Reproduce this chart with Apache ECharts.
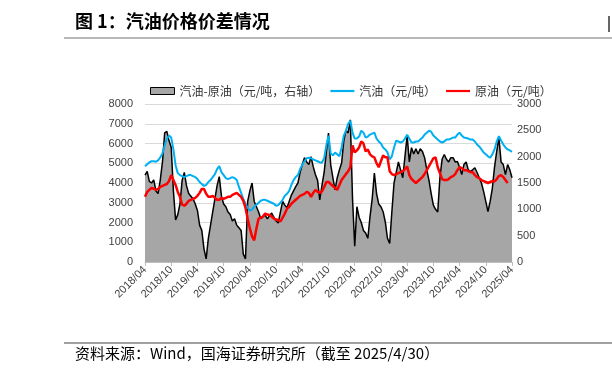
<!DOCTYPE html>
<html><head><meta charset="utf-8">
<script src="https://cdn.jsdelivr.net/npm/echarts@6/dist/echarts.min.js"></script>
<style>html,body{margin:0;padding:0;background:#fff}#c{width:612px;height:379px}</style>
</head><body><div id="c"></div>
<script>
// half-monthly categories from 2018/04 to 2025/04
const categories = [];
for (let i = 0; i < 169; i++) {
  const m = 3 + Math.floor(i / 2);
  const y = 2018 + Math.floor(m / 12);
  const mm = (m % 12) + 1;
  categories.push(y + '/' + String(mm).padStart(2, '0') + (i % 2 ? '/16' : '/01'));
}
const tickLabels = ['2018/04','2018/10','2019/04','2019/10','2020/04','2020/10','2021/04','2021/10','2022/04','2022/10','2023/04','2023/10','2024/04','2024/10','2025/04'];
const leftTicks = [0,1000,2000,3000,4000,5000,6000,7000,8000];
const rightTicks = [0,500,1000,1500,2000,2500,3000];

const gasoline = [4850,4950,5050,5100,5100,5080,5150,5300,5500,5900,6250,6400,6300,5700,4900,4500,4400,4350,4300,4350,4400,4400,4350,4300,4200,4050,3950,3850,3900,4050,4150,4300,4450,4700,4850,4550,4400,4250,4200,4250,4300,4250,4150,3800,3500,3200,2950,2750,2600,2650,2800,2900,3000,3100,3150,3150,3100,3050,3000,2950,2850,2880,3000,3150,3350,3450,3600,3900,4150,4300,4400,4700,4930,5100,5250,5280,5250,5200,5150,5100,5050,5030,5250,5900,6400,5500,5400,5540,5450,5350,5800,6400,6650,7000,7150,6550,6250,6250,6350,6650,6550,6300,6350,6450,6500,6550,6250,6100,6000,5800,5700,5550,5200,5350,5800,6150,6100,6050,6100,6250,6450,6250,6050,6050,6100,6100,6200,6300,6450,6550,6650,6600,6400,6300,6200,6100,6050,6100,6200,6200,6250,6300,6300,6450,6550,6400,6300,6280,6250,6200,6200,6100,5950,5850,5700,5550,5450,5350,5280,5450,5700,6100,6370,6150,5950,5800,5700,5650,5580];

const crude = [3300,3550,3650,3750,3700,3650,3700,3800,3850,3900,3950,4100,4400,4150,3900,3550,3300,2900,2850,2950,3100,3150,3200,3250,3350,3500,3700,3700,3450,3300,3300,3350,3250,3150,3150,3250,3200,3250,3300,3300,3400,3450,3500,3400,3300,3100,2750,2200,1700,1300,1100,1700,2200,2250,2300,2450,2400,2380,2300,2200,2150,2130,2050,2250,2450,2700,2800,2950,3050,3150,3250,3350,3400,3450,3550,3500,3300,3500,3650,3550,3500,3570,3800,4050,4050,3950,3850,3750,3650,3900,4150,4300,4450,4600,4800,5900,5550,5650,5800,6100,6000,5600,5700,5450,5350,5300,5000,4800,5100,5400,5300,5300,4600,4450,4400,4450,4500,4550,4600,4700,4840,4400,4200,4100,4000,4100,4200,4300,4450,4650,4850,5050,5250,5300,4800,4500,4200,4150,4150,4200,4300,4350,4450,4650,4800,4750,4650,4650,4600,4550,4550,4400,4300,4250,4150,4100,4050,4000,4050,4100,4080,4200,4350,4400,4300,4150,4000,null,null];

const spread = [1650,1720,1530,1500,1560,1350,1300,1560,1900,2450,2480,2300,2180,1350,800,900,1100,1550,1700,1450,1300,1250,1200,1100,980,700,600,250,60,450,700,950,1200,1450,1620,1250,1100,1050,950,900,780,820,700,650,600,150,60,1150,1350,1500,1150,1050,950,820,860,890,820,880,930,850,780,740,950,1150,1080,1030,1150,1270,1350,1430,1500,1700,1850,1980,1900,1850,2000,1810,1660,1550,1180,1450,1700,2080,2450,1850,1600,1370,1600,1750,1880,2300,2500,2450,2700,1200,300,1050,850,750,600,550,450,860,1200,1690,1300,1100,1050,955,760,450,350,950,1500,1700,1900,1750,1600,2000,2400,1900,2170,2050,2150,2050,2150,2100,1980,1750,1550,1300,1080,1000,950,1600,1950,2040,1950,1900,1980,1980,1900,1910,1800,1660,1850,1900,1750,1720,1750,1790,1700,1600,1500,1340,1150,955,1150,1400,1800,2100,2360,1900,1850,1660,1850,1750,1600];

const numFont = '"Liberation Sans", Arial, sans-serif';
const cjkFont = '"Noto Sans CJK SC", sans-serif';
const lineIcon = 'path://M0,0 L24,0 L24,2.2 L0,2.2 Z';

const chart = echarts.init(document.getElementById('c'), null, {renderer: 'canvas'});
chart.setOption({
  animation: false,
  backgroundColor: '#fff',
  grid: {left: 145, right: 100, top: 104, bottom: 117},
  legend: {
    left: 145, top: 80, itemWidth: 24, itemHeight: 7, itemGap: 10,
    textStyle: {fontFamily: cjkFont, fontSize: 12, color: '#333'},
    data: [
      {name: '汽油-原油（元/吨，右轴）', icon: 'rect', itemStyle: {color: '#a6a6a6', borderColor: '#000', borderWidth: 1}},
      {name: '汽油（元/吨）', icon: lineIcon, itemStyle: {color: '#00b0f0'}},
      {name: '原油（元/吨）', icon: lineIcon, itemStyle: {color: '#ff0000'}}
    ]
  },
  xAxis: {
    type: 'category', data: categories, boundaryGap: false,
    axisLine: {lineStyle: {color: '#bfbfbf', width: 1}},
    axisTick: {interval: (i) => i % 12 === 0, lineStyle: {color: '#bfbfbf'}, length: 4},
    axisLabel: {
      interval: (i) => i % 12 === 0, rotate: 45, margin: 6,
      fontFamily: numFont, fontSize: 11, color: '#404040',
      formatter: (v, i) => tickLabels[Math.round(i / 12)]
    },
    splitLine: {show: false}
  },
  yAxis: [
    {type: 'value', min: leftTicks[0], max: leftTicks[leftTicks.length - 1], interval: 1000,
     axisLine: {show: false}, axisTick: {show: false},
     axisLabel: {fontFamily: numFont, fontSize: 11, color: '#404040', margin: 12, formatter: (v) => String(v)},
     splitLine: {lineStyle: {color: '#d9d9d9', width: 1}}},
    {type: 'value', min: rightTicks[0], max: rightTicks[rightTicks.length - 1], interval: 500,
     axisLine: {show: false}, axisTick: {show: false},
     axisLabel: {fontFamily: numFont, fontSize: 11, color: '#404040', margin: 5, formatter: (v) => String(v)},
     splitLine: {show: false}}
  ],
  series: [
    {name: '汽油-原油（元/吨，右轴）', type: 'line', yAxisIndex: 1, data: spread, symbol: 'none',
     lineStyle: {color: '#000', width: 1.5}, itemStyle: {color: '#a6a6a6'},
     areaStyle: {color: '#a6a6a6', opacity: 1}, z: 1},
    {name: '汽油（元/吨）', type: 'line', yAxisIndex: 0, data: gasoline, symbol: 'none',
     lineStyle: {color: '#00b0f0', width: 2}, itemStyle: {color: '#00b0f0'}, z: 2},
    {name: '原油（元/吨）', type: 'line', yAxisIndex: 0, data: crude, symbol: 'none',
     lineStyle: {color: '#ff0000', width: 2.5}, itemStyle: {color: '#ff0000'}, z: 3}
  ],
  graphic: [
    {type: 'text', left: 75, top: 12, style: {text: '图 1：汽油价格价差情况', fontFamily: cjkFont, fontWeight: 'bold', fontSize: 18, fill: '#000'}},
    {type: 'line', shape: {x1: 64, y1: 38, x2: 612, y2: 38}, style: {stroke: '#a0a0a0', lineWidth: 1.5}},
    {type: 'rect', shape: {x: 608, y: 16, width: 2, height: 16}, style: {fill: '#666'}},
    {type: 'line', shape: {x1: 64, y1: 343, x2: 612, y2: 343}, style: {stroke: '#808080', lineWidth: 1.5}},
    {type: 'text', left: 75, top: 346, style: {text: '资料来源：Wind，国海证券研究所（截至 2025/4/30）', fontFamily: cjkFont, fontSize: 15, fill: '#000'}}
  ]
});
</script></body></html>
